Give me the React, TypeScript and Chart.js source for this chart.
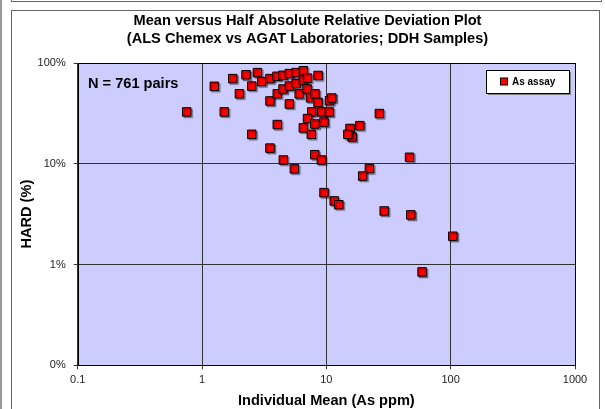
import React, { useEffect, useRef } from "react";
import { Chart, registerables } from "chart.js";

Chart.register(...registerables);

const titleLines = [
  "Mean versus Half Absolute Relative Deviation Plot",
  "(ALS Chemex vs AGAT Laboratories; DDH Samples)",
];
const xAxisTitle = "Individual Mean (As ppm)";
const yAxisTitle = "HARD (%)";
const seriesName = "As assay";
const pairsLabel = "N = 761 pairs";

const xTickValues = [0.1, 1, 10, 100, 1000];
const yTickValues = [0.1, 1, 10, 100];

// Individual mean (As ppm)
const meanAs = [
  0.753, 1.256, 1.51, 1.766, 2.0, 2.26, 2.51, 2.51, 2.79, 3.02,
  3.52, 3.52, 3.52, 4.01, 4.03, 4.03, 4.48, 4.48, 4.51, 5.04,
  5.04, 5.04, 5.53, 5.71, 5.71, 6.05, 6.53, 6.53, 7.06, 7.0,
  7.46, 8.11, 8.58, 8.58, 7.63, 7.06, 6.53, 7.57, 8.08, 9.15,
  9.58, 10.55, 10.6, 11.07, 8.07, 9.12, 9.58, 11.58, 12.6, 15.5,
  16.1, 14.9, 18.6, 22.2, 19.6, 26.7, 46.7, 29.2, 47.8, 104,
  58.9,
];
// HARD (%)
const hardPct = [
  32.7, 58.7, 32.7, 70.0, 49.5, 76.4, 59.0, 19.6, 80.3, 65.4,
  70.0, 42.0, 14.3, 73.8, 49.5, 24.5, 75.5, 55.2, 10.9, 78.5,
  59.0, 39.2, 8.9, 80.3, 62.5, 49.4, 83.7, 67.6, 70.8, 55.3,
  45.2, 49.4, 75.2, 40.6, 32.7, 28.1, 22.7, 19.6, 24.8, 32.7,
  25.9, 32.6, 42.2, 44.9, 12.3, 10.9, 5.17, 4.28, 3.92, 22.4,
  18.4, 19.6, 23.9, 8.96, 7.55, 31.5, 11.6, 3.4, 3.11, 1.91,
  0.845,
];

const FONT = "'Liberation Sans', Arial, sans-serif";

const decorPlugin = {
  id: "decor",
  beforeDraw(chart: any) {
    const { ctx, chartArea: a } = chart;
    ctx.save();
    ctx.fillStyle = "#CCCCFF";
    ctx.fillRect(a.left, a.top, a.right - a.left, a.bottom - a.top);
    ctx.restore();
  },
  beforeDatasetsDraw(chart: any) {
    const ctx = chart.ctx;
    ctx.save();
    ctx.shadowColor = "rgba(0,0,0,0.35)";
    ctx.shadowOffsetX = 1.5;
    ctx.shadowOffsetY = 1.5;
    ctx.shadowBlur = 1;
  },
  afterDatasetsDraw(chart: any) {
    chart.ctx.restore();
  },
  afterDraw(chart: any) {
    const { ctx, chartArea: a } = chart;
    ctx.save();
    // plot border
    ctx.strokeStyle = "#000";
    ctx.lineWidth = 1;
    ctx.strokeRect(Math.round(a.left) + 0.5, Math.round(a.top) + 0.5, Math.round(a.right - a.left), Math.round(a.bottom - a.top));

    // main title
    ctx.fillStyle = "#000";
    ctx.font = `bold 14.6px ${FONT}`;
    ctx.textAlign = "center";
    ctx.textBaseline = "middle";
    ctx.fillText(titleLines[0], 307.5, 21);
    ctx.fillText(titleLines[1], 307.5, 39);

    // N label
    ctx.font = `bold 14.6px ${FONT}`;
    ctx.textAlign = "left";
    ctx.fillText(pairsLabel, 88, 83.5);

    // legend
    const lx = 486, ly = 70, lw = 83, lh = 23;
    ctx.fillStyle = "#808080";
    ctx.fillRect(lx + 2, ly + 2, lw, lh);
    ctx.fillStyle = "#fff";
    ctx.fillRect(lx, ly, lw, lh);
    ctx.strokeStyle = "#000";
    ctx.strokeRect(lx + 0.5, ly + 0.5, lw, lh);
    ctx.fillStyle = "#FF0000";
    ctx.fillRect(500.5, 78, 7, 7);
    ctx.strokeRect(500.5, 78, 7, 7);
    ctx.fillStyle = "#000";
    ctx.font = `bold 10px ${FONT}`;
    ctx.textBaseline = "middle";
    ctx.fillText(seriesName, 512, 82);
    ctx.restore();
  },
};

export default function App() {
  const ref = useRef<HTMLCanvasElement | null>(null);

  useEffect(() => {
    if (!ref.current) return;
    const points = meanAs.map((x, i) => ({ x, y: hardPct[i] }));
    const chart = new Chart(ref.current, {
      type: "scatter",
      data: {
        datasets: [
          {
            label: seriesName,
            data: points,
            pointStyle: "rect",
            pointRadius: 6,
            pointHoverRadius: 6,
            backgroundColor: "#FF0000",
            borderColor: "#000000",
            borderWidth: 1,
          },
        ],
      },
      options: {
        responsive: false,
        animation: false,
        devicePixelRatio: 1,
        layout: { padding: { left: 12, right: 30, top: 63, bottom: 0 } },
        plugins: {
          legend: { display: false },
          tooltip: { enabled: false },
          title: { display: false },
        },
        scales: {
          x: {
            type: "logarithmic",
            position: "bottom",
            min: 0.1,
            max: 1000,
            afterBuildTicks: (s: any) => {
              s.ticks = xTickValues.map((v) => ({ value: v }));
            },
            afterFit: (s: any) => {
              s.height = 43.7;
            },
            ticks: {
              autoSkip: false,
              maxRotation: 0,
              padding: 4,
              color: "#222",
              font: { family: FONT, size: 11 },
              callback: (v: any) => String(v),
            },
            grid: { color: "#333", lineWidth: 1, tickLength: 4 },
            border: { display: false },
            title: {
              display: true,
              text: xAxisTitle,
              color: "#000",
              font: { family: FONT, size: 14.6, weight: "bold" },
              padding: { top: 0, bottom: -0.8 },
            },
          },
          y: {
            type: "logarithmic",
            position: "left",
            min: 0.1,
            max: 100,
            afterBuildTicks: (s: any) => {
              s.ticks = yTickValues.map((v) => ({ value: v }));
            },
            afterFit: (s: any) => {
              s.width = 65.7;
            },
            ticks: {
              autoSkip: false,
              padding: 8,
              color: "#222",
              font: { family: FONT, size: 11 },
              callback: (v: any) => (v < 1 ? "0" : String(v)) + "%",
            },
            grid: { color: "#333", lineWidth: 1, tickLength: 4 },
            border: { display: false },
            title: {
              display: true,
              text: yAxisTitle,
              color: "#000",
              font: { family: FONT, size: 14.6, weight: "bold" },
              padding: { top: 6.7, bottom: 0 },
            },
          },
        },
      },
      plugins: [decorPlugin],
    } as any);
    return () => chart.destroy();
  }, []);

  return (
    <div style={{ position: "fixed", left: 0, top: 0, width: 605, height: 409, background: "#fff", overflow: "hidden" }}>
      <div style={{ position: "absolute", left: 0, top: 0, width: 2, height: 409, background: "#999" }} />
      <div style={{ position: "absolute", left: 11, top: 0, width: 589, height: 1, borderBottom: "1px solid #666", borderLeft: "1px solid #666", borderRight: "1px solid #666" }} />
      <div style={{ position: "absolute", left: 11, top: 10, width: 589, height: 420, border: "1px solid #666", boxSizing: "border-box" }} />
      <canvas ref={ref} width={605} height={409} style={{ position: "absolute", left: 0, top: 0, display: "block" }} />
    </div>
  );
}
